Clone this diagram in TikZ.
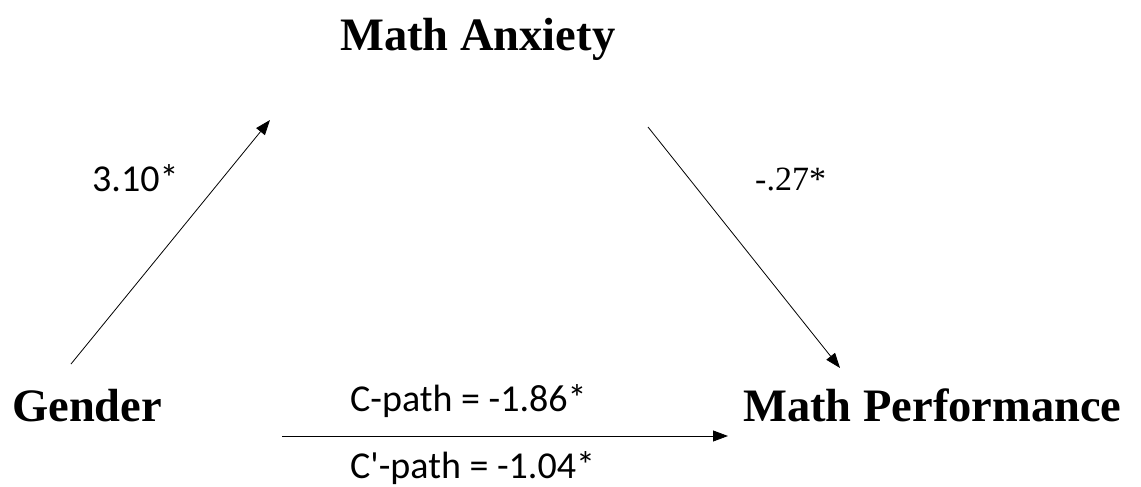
\documentclass[tikz,border=0pt]{standalone}
\usepackage{fontspec}
\setmainfont{Liberation Serif}
\newfontfamily\lblfont{Carlito}
\usetikzlibrary{arrows.meta,positioning}

\begin{document}
\begin{tikzpicture}[x=1pt,y=-1pt,
  var/.style={inner sep=0pt,anchor=base west,font=\fontsize{46.5}{52}\selectfont\bfseries},
  coef/.style={inner sep=0pt,anchor=base west,font=\lblfont\fontsize{38}{42}\selectfont},
  path/.style={line width=0.8pt,-{Triangle[length=15pt,width=11pt]}}]
\useasboundingbox (0,0) rectangle (1141,487);
% variables
\node[var] (anx) at (340,51) {Math Anxiety};
\node[var] (gen) at (12,421) {Gender};
\node[var] (perf) at (743,421) {Math Performance};
% arrow ends
\coordinate (a1) at (71,364);
\coordinate (a2) at (270,120);
\coordinate (b1) at (648,127);
\coordinate (b2) at (840,368);
\coordinate (c1) at (282,436);
\coordinate (c2) at (728,436);
\draw[path] (a1) -- (a2);
\draw[path] (b1) -- (b2);
\draw[path] (c1) -- (c2);
% coefficients
\node[coef] (ga) at (92,191) {3.10*};
\node[inner sep=0pt,anchor=base west,font=\fontsize{34}{38}\selectfont] (ap) at (755,190) {-.27*};
\node[coef] (cp) at (350,411) {C-path = -1.86*};
\node[coef] (cpp) at (350,478) {C'-path = -1.04*};
\end{tikzpicture}
\end{document}
